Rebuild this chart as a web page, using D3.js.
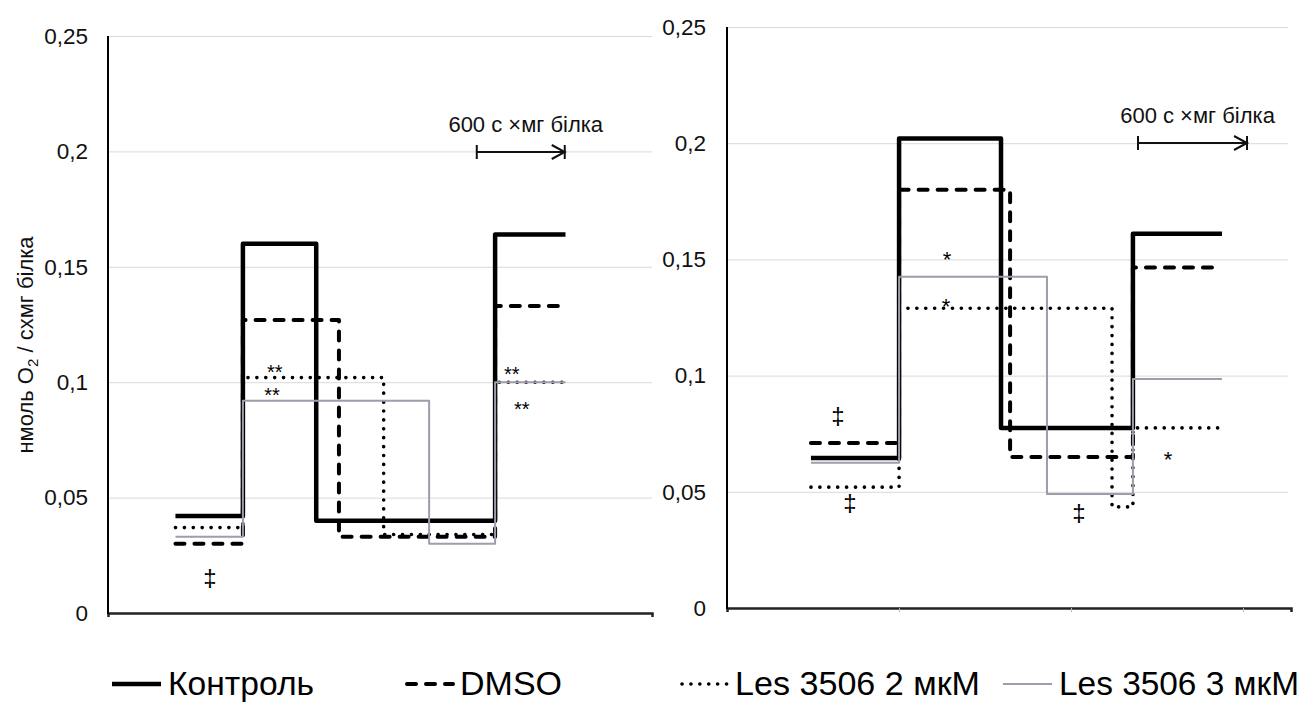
<!DOCTYPE html>
<html>
<head>
<meta charset="utf-8">
<script src="https://cdn.jsdelivr.net/npm/d3@7"></script>
<style>
  body { margin: 0; background: #fff; }
  svg { display: block; font-family: Arial, "Liberation Sans", sans-serif; }
</style>
</head>
<body>
<svg id="chart" width="1305" height="704"></svg>
<script>
// ---- data ----
const seriesNames = ["Контроль", "DMSO", "Les 3506 2 мкМ", "Les 3506 3 мкМ"];
const yTicks = [0, 0.05, 0.1, 0.15, 0.2, 0.25];
const yTickLabels = ["0", "0,05", "0,1", "0,15", "0,2", "0,25"];

// left panel: step start times (s·mg) and levels
const leftControlT = [460, 920, 1420, 2640, 3120];
const leftControlV = [0.042, 0.160, 0.040, 0.164];
const leftDmsoT = [460, 920, 1575, 2640, 3120];
const leftDmsoV = [0.030, 0.127, 0.033, 0.133];
const leftLes2T = [460, 920, 1880, 2640, 3120];
const leftLes2V = [0.037, 0.102, 0.034, 0.100];
const leftLes3T = [460, 920, 2190, 2640, 3120];
const leftLes3V = [0.033, 0.092, 0.030, 0.100];

// right panel
const rightControlT = [462, 947, 1508, 2234, 2724];
const rightControlV = [0.0645, 0.202, 0.0775, 0.161];
const rightDmsoT = [462, 947, 1558, 2234, 2724];
const rightDmsoV = [0.071, 0.180, 0.065, 0.1465];
const rightLes2T = [462, 947, 2119, 2234, 2724];
const rightLes2V = [0.052, 0.129, 0.0435, 0.0775];
const rightLes3T = [462, 947, 1761, 2234, 2724];
const rightLes3V = [0.0625, 0.1425, 0.049, 0.0985];

// significance marks: [time, value, text]
const leftMarks = [
  [695, 0.0152, "‡"],
  [1138, 0.1066, "**"],
  [1118, 0.0966, "**"],
  [2754, 0.106, "**"],
  [2822, 0.0906, "**"]
];
const rightMarks = [
  [611, 0.0826, "‡"],
  [677, 0.0452, "‡"],
  [1211, 0.1528, "*"],
  [1205, 0.1325, "*"],
  [1937, 0.0409, "‡"],
  [2427, 0.0667, "*"]
];
const scaleBarLabel = "600 с ×мг білка";
const leftScaleBar = [2515, 3115];
const rightScaleBar = [2262, 2862];
const rightXTicks = [947, 1893, 2840];

// ---- styles ----
const styles = [
  { color: "#000", width: 4.5, dash: null, cap: "butt" },
  { color: "#000", width: 4, dash: "9,10", cap: "round" },
  { color: "#000", width: 3.6, dash: "0.1,8.8", cap: "round" },
  { color: "#9d9dab", width: 2, dash: null, cap: "butt" }
];

const svg = d3.select("#chart");

// Build step points from breakpoints and levels
function stepPoints(ts, vs) {
  const pts = vs.map((v, i) => ({ t: ts[i], v: v }));
  pts.push({ t: ts[ts.length - 1], v: vs[vs.length - 1] });
  return pts;
}

function drawPanel(cfg) {
  const x = d3.scaleLinear().domain(cfg.xDomain).range([cfg.left, cfg.right]);
  const y = d3.scaleLinear().domain([0, 0.25]).range([cfg.bottom, cfg.top]);
  const g = svg.append("g");

  // gridlines
  g.append("g")
    .attr("transform", `translate(${cfg.left},0)`)
    .call(d3.axisLeft(y).tickValues(yTicks.slice(1)).tickSize(-(cfg.gridRight - cfg.left)).tickFormat(""))
    .call(a => a.select(".domain").remove())
    .call(a => a.selectAll("line").attr("stroke", "#d9d9d9").attr("stroke-width", 1));

  // y tick labels
  g.append("g")
    .attr("transform", `translate(${cfg.labelX},0)`)
    .call(d3.axisLeft(y).tickValues(yTicks).tickSize(0).tickPadding(0).tickFormat((d, i) => yTickLabels[i]))
    .call(a => a.select(".domain").remove())
    .call(a => a.attr("font-size", 22.5).attr("font-family", "Arial, 'Liberation Sans', sans-serif"))
    .call(a => a.selectAll("text").attr("fill", "#111"));

  // x axis
  g.append("g")
    .attr("transform", `translate(0,${cfg.bottom})`)
    .call(d3.axisBottom(x).tickValues(cfg.xTicks).tickSize(4).tickFormat(""))
    .call(a => a.select(".domain").attr("stroke", "#222").attr("stroke-width", 2.5))
    .call(a => a.selectAll(".tick line").attr("stroke", "#bbb"));

  // series
  const line = d3.line().x(d => x(d.t)).y(d => y(d.v)).curve(d3.curveStepAfter);
  cfg.series.forEach((s, i) => {
    const st = styles[i];
    g.append("path")
      .datum(stepPoints(s[0], s[1]))
      .attr("fill", "none")
      .attr("stroke", st.color)
      .attr("stroke-width", st.width)
      .attr("stroke-dasharray", st.dash)
      .attr("stroke-linecap", st.cap)
      .attr("stroke-linejoin", "round")
      .attr("d", line);
  });

  // y axis line
  g.append("line")
    .attr("x1", cfg.left).attr("x2", cfg.left)
    .attr("y1", cfg.top).attr("y2", cfg.bottom + 1)
    .attr("stroke", "#000").attr("stroke-width", 2);

  // marks
  g.selectAll(".mark")
    .data(cfg.marks)
    .enter()
    .append("text")
    .attr("x", d => x(d[0]))
    .attr("y", d => y(d[1]))
    .attr("dy", d => d[2] === "‡" ? "0.32em" : "0.62em")
    .attr("text-anchor", "middle")
    .attr("font-size", d => d[2] === "‡" ? 24 : cfg.starSize)
    .attr("fill", "#000")
    .text(d => d[2]);

  // scale bar
  const sb = cfg.scaleBar;
  const sy = cfg.scaleBarY;
  const x1 = x(sb[0]), x2 = x(sb[1]);
  const bar = g.append("g").attr("stroke", "#111").attr("stroke-width", 2).attr("fill", "none");
  bar.append("line").attr("x1", x1).attr("x2", x2).attr("y1", sy).attr("y2", sy);
  bar.append("line").attr("x1", x1).attr("x2", x1).attr("y1", sy - 7).attr("y2", sy + 7);
  bar.append("line").attr("x1", x2).attr("x2", x2).attr("y1", sy - 7).attr("y2", sy + 7);
  bar.append("path").attr("d", `M${x2 - 13},${sy - 7}L${x2},${sy}L${x2 - 13},${sy + 7}`);
  g.append("text")
    .attr("x", (x1 + x2) / 2 + 5)
    .attr("y", sy - 20)
    .attr("text-anchor", "middle")
    .attr("font-size", 22)
    .attr("fill", "#111")
    .text(scaleBarLabel);
}

drawPanel({
  left: 108, right: 652, gridRight: 652, top: 36, bottom: 613, labelX: 88,
  xDomain: [0, 3710], xTicks: [],
  series: [[leftControlT, leftControlV], [leftDmsoT, leftDmsoV], [leftLes2T, leftLes2V], [leftLes3T, leftLes3V]],
  marks: leftMarks, starSize: 20,
  scaleBar: leftScaleBar, scaleBarY: 152
});

drawPanel({
  left: 727, right: 1291, gridRight: 1288, top: 27, bottom: 608, labelX: 706,
  xDomain: [0, 3104], xTicks: rightXTicks,
  series: [[rightControlT, rightControlV], [rightDmsoT, rightDmsoV], [rightLes2T, rightLes2V], [rightLes3T, rightLes3V]],
  marks: rightMarks, starSize: 22,
  scaleBar: rightScaleBar, scaleBarY: 143
});

// y axis title
const yTitle = svg.append("text")
  .attr("transform", "translate(33,345) rotate(-90)")
  .attr("text-anchor", "middle")
  .attr("font-size", 22)
  .attr("fill", "#111");
yTitle.append("tspan").text("нмоль  O");
yTitle.append("tspan").attr("font-size", 15).attr("dy", 5).text("2");
yTitle.append("tspan").attr("dy", -5).text(" / схмг білка");

// legend
const legendX = [112, 404, 679, 1003];
const legendTextW = [146, 102, 245, 240];
const legend = svg.append("g");
seriesNames.forEach((name, i) => {
  const st = styles[i];
  const lx = legendX[i];
  legend.append("line")
    .attr("x1", lx + (st.cap === "round" ? 3 : 0)).attr("x2", lx + 49)
    .attr("y1", 684).attr("y2", 684)
    .attr("stroke", st.color)
    .attr("stroke-width", st.width)
    .attr("stroke-dasharray", st.dash)
    .attr("stroke-linecap", st.cap);
  legend.append("text")
    .attr("x", lx + 56)
    .attr("y", 695)
    .attr("font-size", 34)
    .attr("textLength", legendTextW[i])
    .attr("lengthAdjust", "spacingAndGlyphs")
    .attr("fill", "#000")
    .text(name);
});
</script>
</body>
</html>
